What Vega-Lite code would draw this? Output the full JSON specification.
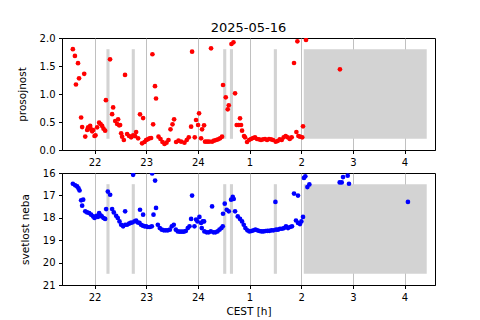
{
  "$schema": "https://vega.github.io/schema/vega-lite/v6.json",
  "padding": {"left": 16, "top": 21, "right": 5, "bottom": 5},
  "background": "white",
  "config": {
    "font": "DejaVu Sans",
    "view": {"stroke": "black", "strokeWidth": 1},
    "axis": {
      "domainColor": "black", "tickColor": "black", "labelColor": "black", "titleColor": "black",
      "labelFontSize": 10, "titleFontSize": 10.5, "titleFontWeight": "normal",
      "labelFont": "DejaVu Sans", "titleFont": "DejaVu Sans", "labelOverlap": false, "labelFlush": false,
      "gridColor": "#b0b0b0", "gridWidth": 0.8, "tickSize": 3.5, "labelPadding": 3.5, "domainWidth": 1
    },
    "axisY": {"titlePadding": 12},
    "axisX": {"titlePadding": 4},
    "title": {"fontSize": 13, "fontWeight": "normal", "font": "DejaVu Sans", "color": "black"}
  },
  "datasets": {
    "gaps": [
      {"a": 22.23, "b": 22.29},
      {"a": 22.72, "b": 22.78},
      {"a": 24.49, "b": 24.55},
      {"a": 24.62, "b": 24.68},
      {"a": 25.47, "b": 25.53},
      {"a": 26.05, "b": 28.43}
    ],
    "p": [
      {"t": 21.58, "v": 1.80}, {"t": 21.62, "v": 1.68}, {"t": 21.64, "v": 1.17}, {"t": 21.68, "v": 1.55},
      {"t": 21.70, "v": 1.28}, {"t": 21.74, "v": 0.58}, {"t": 21.76, "v": 0.41}, {"t": 21.80, "v": 1.36},
      {"t": 21.82, "v": 0.24}, {"t": 21.857, "v": 0.357}, {"t": 21.876, "v": 0.405}, {"t": 21.915, "v": 0.43},
      {"t": 21.934, "v": 0.369}, {"t": 21.954, "v": 0.333}, {"t": 21.973, "v": 0.357}, {"t": 22.0, "v": 0.25},
      {"t": 22.019, "v": 0.262}, {"t": 22.05, "v": 0.405}, {"t": 22.089, "v": 0.488}, {"t": 22.116, "v": 0.464},
      {"t": 22.147, "v": 0.43}, {"t": 22.174, "v": 0.381}, {"t": 22.205, "v": 0.345}, {"t": 22.22, "v": 0.89},
      {"t": 22.30, "v": 1.62}, {"t": 22.34, "v": 0.64}, {"t": 22.36, "v": 0.76}, {"t": 22.40, "v": 0.518},
      {"t": 22.437, "v": 0.464}, {"t": 22.456, "v": 0.548}, {"t": 22.476, "v": 0.44}, {"t": 22.495, "v": 0.446},
      {"t": 22.515, "v": 0.298}, {"t": 22.534, "v": 0.238}, {"t": 22.567, "v": 0.179}, {"t": 22.59, "v": 1.34},
      {"t": 22.63, "v": 0.286}, {"t": 22.669, "v": 0.25}, {"t": 22.708, "v": 0.226}, {"t": 22.747, "v": 0.262},
      {"t": 22.785, "v": 0.25}, {"t": 22.805, "v": 0.321}, {"t": 22.843, "v": 0.208}, {"t": 22.88, "v": 0.637},
      {"t": 22.92, "v": 0.119}, {"t": 22.94, "v": 0.57}, {"t": 22.967, "v": 0.143}, {"t": 22.998, "v": 0.179},
      {"t": 23.03, "v": 0.19}, {"t": 23.064, "v": 0.208}, {"t": 23.095, "v": 0.214}, {"t": 23.12, "v": 1.71},
      {"t": 23.134, "v": 0.458}, {"t": 23.17, "v": 1.14}, {"t": 23.19, "v": 0.92}, {"t": 23.238, "v": 0.238},
      {"t": 23.276, "v": 0.196}, {"t": 23.315, "v": 0.143}, {"t": 23.354, "v": 0.107}, {"t": 23.393, "v": 0.131},
      {"t": 23.431, "v": 0.179}, {"t": 23.47, "v": 0.369}, {"t": 23.509, "v": 0.458}, {"t": 23.54, "v": 0.548},
      {"t": 23.579, "v": 0.143}, {"t": 23.625, "v": 0.167}, {"t": 23.676, "v": 0.149}, {"t": 23.74, "v": 0.131},
      {"t": 23.785, "v": 0.179}, {"t": 23.824, "v": 0.226}, {"t": 23.869, "v": 0.417}, {"t": 23.888, "v": 1.756},
      {"t": 23.94, "v": 0.226}, {"t": 23.965, "v": 0.536}, {"t": 24.004, "v": 0.446}, {"t": 24.023, "v": 0.655},
      {"t": 24.062, "v": 0.208}, {"t": 24.081, "v": 0.369}, {"t": 24.12, "v": 0.44}, {"t": 24.139, "v": 0.149},
      {"t": 24.178, "v": 0.149}, {"t": 24.217, "v": 0.149}, {"t": 24.255, "v": 1.815}, {"t": 24.275, "v": 0.149},
      {"t": 24.313, "v": 0.167}, {"t": 24.352, "v": 0.179}, {"t": 24.391, "v": 0.19}, {"t": 24.43, "v": 0.208},
      {"t": 24.468, "v": 0.238}, {"t": 24.487, "v": 1.161}, {"t": 24.54, "v": 0.94}, {"t": 24.578, "v": 0.726},
      {"t": 24.598, "v": 0.798}, {"t": 24.65, "v": 1.893}, {"t": 24.689, "v": 1.923}, {"t": 24.72, "v": 1.012},
      {"t": 24.752, "v": 0.446}, {"t": 24.791, "v": 0.446}, {"t": 24.816, "v": 0.565}, {"t": 24.836, "v": 0.446},
      {"t": 24.855, "v": 0.345}, {"t": 24.894, "v": 0.25}, {"t": 24.913, "v": 0.226}, {"t": 24.952, "v": 0.143},
      {"t": 24.99, "v": 0.179}, {"t": 25.029, "v": 0.196}, {"t": 25.068, "v": 0.214}, {"t": 25.106, "v": 0.226},
      {"t": 25.145, "v": 0.196}, {"t": 25.184, "v": 0.19}, {"t": 25.222, "v": 0.179}, {"t": 25.261, "v": 0.19},
      {"t": 25.3, "v": 0.196}, {"t": 25.339, "v": 0.179}, {"t": 25.377, "v": 0.196}, {"t": 25.416, "v": 0.19},
      {"t": 25.455, "v": 0.179}, {"t": 25.507, "v": 0.149}, {"t": 25.545, "v": 0.161}, {"t": 25.584, "v": 0.19},
      {"t": 25.623, "v": 0.179}, {"t": 25.661, "v": 0.226}, {"t": 25.7, "v": 0.25}, {"t": 25.739, "v": 0.226},
      {"t": 25.778, "v": 0.196}, {"t": 25.816, "v": 0.226}, {"t": 25.861, "v": 1.554}, {"t": 25.907, "v": 0.321},
      {"t": 25.926, "v": 1.94}, {"t": 25.946, "v": 0.25}, {"t": 25.977, "v": 0.238}, {"t": 26.02, "v": 0.226},
      {"t": 26.035, "v": 0.423}, {"t": 26.093, "v": 1.964}, {"t": 26.75, "v": 1.44}
    ],
    "s": [
      {"t": 21.58, "v": 16.48}, {"t": 21.625, "v": 16.55}, {"t": 21.663, "v": 16.60}, {"t": 21.69, "v": 16.69},
      {"t": 21.71, "v": 16.78}, {"t": 21.74, "v": 17.22}, {"t": 21.76, "v": 17.46}, {"t": 21.78, "v": 17.19},
      {"t": 21.82, "v": 17.71}, {"t": 21.857, "v": 17.76}, {"t": 21.896, "v": 17.79}, {"t": 21.934, "v": 17.86},
      {"t": 21.973, "v": 17.94}, {"t": 22.0, "v": 18.01}, {"t": 22.039, "v": 17.91}, {"t": 22.064, "v": 17.96},
      {"t": 22.089, "v": 17.79}, {"t": 22.116, "v": 17.89}, {"t": 22.141, "v": 17.94}, {"t": 22.174, "v": 18.01},
      {"t": 22.205, "v": 18.05}, {"t": 22.224, "v": 17.61}, {"t": 22.257, "v": 16.83}, {"t": 22.302, "v": 16.97},
      {"t": 22.34, "v": 17.61}, {"t": 22.373, "v": 17.76}, {"t": 22.418, "v": 17.91}, {"t": 22.45, "v": 18.01},
      {"t": 22.483, "v": 18.16}, {"t": 22.515, "v": 18.31}, {"t": 22.553, "v": 18.38}, {"t": 22.592, "v": 18.31},
      {"t": 22.592, "v": 17.71}, {"t": 22.63, "v": 18.31}, {"t": 22.669, "v": 18.26}, {"t": 22.696, "v": 18.23},
      {"t": 22.727, "v": 18.21}, {"t": 22.747, "v": 16.08}, {"t": 22.774, "v": 18.16}, {"t": 22.805, "v": 18.12},
      {"t": 22.837, "v": 18.21}, {"t": 22.87, "v": 18.23}, {"t": 22.88, "v": 17.64}, {"t": 22.9, "v": 18.31},
      {"t": 22.934, "v": 18.35}, {"t": 22.94, "v": 17.86}, {"t": 22.967, "v": 18.38}, {"t": 22.998, "v": 18.38},
      {"t": 23.03, "v": 18.41}, {"t": 23.07, "v": 18.41}, {"t": 23.109, "v": 18.38}, {"t": 23.115, "v": 16.02},
      {"t": 23.141, "v": 17.86}, {"t": 23.172, "v": 16.34}, {"t": 23.19, "v": 17.56}, {"t": 23.225, "v": 18.31},
      {"t": 23.263, "v": 18.46}, {"t": 23.302, "v": 18.53}, {"t": 23.341, "v": 18.56}, {"t": 23.38, "v": 18.56},
      {"t": 23.418, "v": 18.56}, {"t": 23.457, "v": 18.53}, {"t": 23.496, "v": 18.38}, {"t": 23.534, "v": 18.31},
      {"t": 23.573, "v": 18.53}, {"t": 23.611, "v": 18.61}, {"t": 23.65, "v": 18.62}, {"t": 23.689, "v": 18.62},
      {"t": 23.728, "v": 18.62}, {"t": 23.766, "v": 18.59}, {"t": 23.805, "v": 18.46}, {"t": 23.838, "v": 18.38},
      {"t": 23.869, "v": 18.05}, {"t": 23.888, "v": 17.01}, {"t": 23.934, "v": 18.38}, {"t": 23.965, "v": 18.08},
      {"t": 23.992, "v": 18.16}, {"t": 24.03, "v": 17.96}, {"t": 24.062, "v": 18.23}, {"t": 24.075, "v": 18.46},
      {"t": 24.095, "v": 18.16}, {"t": 24.12, "v": 18.16}, {"t": 24.126, "v": 18.61}, {"t": 24.17, "v": 18.65},
      {"t": 24.21, "v": 18.65}, {"t": 24.25, "v": 18.61}, {"t": 24.275, "v": 17.49}, {"t": 24.302, "v": 18.65},
      {"t": 24.34, "v": 18.65}, {"t": 24.38, "v": 18.61}, {"t": 24.418, "v": 18.53}, {"t": 24.456, "v": 18.46},
      {"t": 24.482, "v": 18.38}, {"t": 24.487, "v": 17.82}, {"t": 24.52, "v": 17.37}, {"t": 24.559, "v": 17.64},
      {"t": 24.598, "v": 17.71}, {"t": 24.643, "v": 17.19}, {"t": 24.675, "v": 17.07}, {"t": 24.694, "v": 17.16},
      {"t": 24.72, "v": 17.71}, {"t": 24.772, "v": 17.94}, {"t": 24.816, "v": 18.05}, {"t": 24.855, "v": 18.16},
      {"t": 24.888, "v": 18.31}, {"t": 24.92, "v": 18.46}, {"t": 24.959, "v": 18.56}, {"t": 24.998, "v": 18.61},
      {"t": 25.037, "v": 18.59}, {"t": 25.075, "v": 18.56}, {"t": 25.114, "v": 18.53}, {"t": 25.153, "v": 18.56},
      {"t": 25.191, "v": 18.59}, {"t": 25.23, "v": 18.61}, {"t": 25.269, "v": 18.61}, {"t": 25.308, "v": 18.59},
      {"t": 25.346, "v": 18.58}, {"t": 25.385, "v": 18.58}, {"t": 25.424, "v": 18.56}, {"t": 25.462, "v": 18.56},
      {"t": 25.501, "v": 17.29}, {"t": 25.513, "v": 18.53}, {"t": 25.551, "v": 18.53}, {"t": 25.59, "v": 18.49},
      {"t": 25.629, "v": 18.49}, {"t": 25.667, "v": 18.46}, {"t": 25.706, "v": 18.38}, {"t": 25.745, "v": 18.46},
      {"t": 25.783, "v": 18.41}, {"t": 25.822, "v": 18.38}, {"t": 25.861, "v": 16.92}, {"t": 25.899, "v": 18.12},
      {"t": 25.938, "v": 17.01}, {"t": 25.938, "v": 18.23}, {"t": 25.977, "v": 18.28}, {"t": 26.004, "v": 18.16},
      {"t": 26.035, "v": 17.96}, {"t": 26.054, "v": 16.22}, {"t": 26.08, "v": 16.15}, {"t": 26.12, "v": 16.63},
      {"t": 26.158, "v": 16.51}, {"t": 26.745, "v": 16.42}, {"t": 26.784, "v": 16.42}, {"t": 26.81, "v": 16.18},
      {"t": 26.9, "v": 16.12}, {"t": 26.925, "v": 16.48}, {"t": 28.066, "v": 17.29}
    ]
  },
  "bounds": "flush",
  "spacing": 23,
  "vconcat": [
    {
      "width": 373,
      "height": 112,
      "title": {"text": "2025-05-16", "offset": -2},
      "layer": [
        {
          "data": {"name": "gaps"},
          "mark": {"type": "rect", "color": "#d3d3d3"},
          "encoding": {
            "x": {"field": "a", "type": "quantitative", "scale": {"domain": [21.37, 28.59], "nice": false, "zero": false},
                  "axis": {"title": null, "values": [22, 23, 24, 25, 26, 27, 28], "labelExpr": "datum.value > 24 ? datum.value - 24 : datum.value"}},
            "x2": {"field": "b"},
            "y": {"datum": 0.2, "type": "quantitative", "scale": {"domain": [0, 2], "nice": false},
                  "axis": {"title": "prosojnost", "values": [0, 0.5, 1, 1.5, 2], "format": ".1f"}},
            "y2": {"datum": 1.8}
          }
        },
        {
          "data": {"name": "p"},
          "mark": {"type": "circle", "color": "#ff0000", "size": 22, "opacity": 1, "clip": true},
          "encoding": {
            "x": {"field": "t", "type": "quantitative", "scale": {"domain": [21.37, 28.59], "nice": false, "zero": false},
                  "axis": {"title": null, "values": [22, 23, 24, 25, 26, 27, 28], "labelExpr": "datum.value > 24 ? datum.value - 24 : datum.value"}},
            "y": {"field": "v", "type": "quantitative", "scale": {"domain": [0, 2], "nice": false},
                  "axis": {"title": "prosojnost", "values": [0, 0.5, 1, 1.5, 2], "format": ".1f"}}
          }
        }
      ]
    },
    {
      "width": 373,
      "height": 112,
      "layer": [
        {
          "data": {"name": "gaps"},
          "mark": {"type": "rect", "color": "#d3d3d3"},
          "encoding": {
            "x": {"field": "a", "type": "quantitative", "scale": {"domain": [21.37, 28.59], "nice": false, "zero": false},
                  "axis": {"title": "CEST [h]", "values": [22, 23, 24, 25, 26, 27, 28], "labelExpr": "datum.value > 24 ? datum.value - 24 : datum.value"}},
            "x2": {"field": "b"},
            "y": {"datum": 16.5, "type": "quantitative", "scale": {"domain": [16, 21], "nice": false, "zero": false, "reverse": true},
                  "axis": {"title": "svetlost neba", "values": [16, 17, 18, 19, 20, 21]}},
            "y2": {"datum": 20.5}
          }
        },
        {
          "data": {"name": "s"},
          "mark": {"type": "circle", "color": "#0000ff", "size": 22, "opacity": 1, "clip": true},
          "encoding": {
            "x": {"field": "t", "type": "quantitative", "scale": {"domain": [21.37, 28.59], "nice": false, "zero": false},
                  "axis": {"title": "CEST [h]", "values": [22, 23, 24, 25, 26, 27, 28], "labelExpr": "datum.value > 24 ? datum.value - 24 : datum.value"}},
            "y": {"field": "v", "type": "quantitative", "scale": {"domain": [16, 21], "nice": false, "zero": false, "reverse": true},
                  "axis": {"title": "svetlost neba", "values": [16, 17, 18, 19, 20, 21]}}
          }
        }
      ]
    }
  ]
}
